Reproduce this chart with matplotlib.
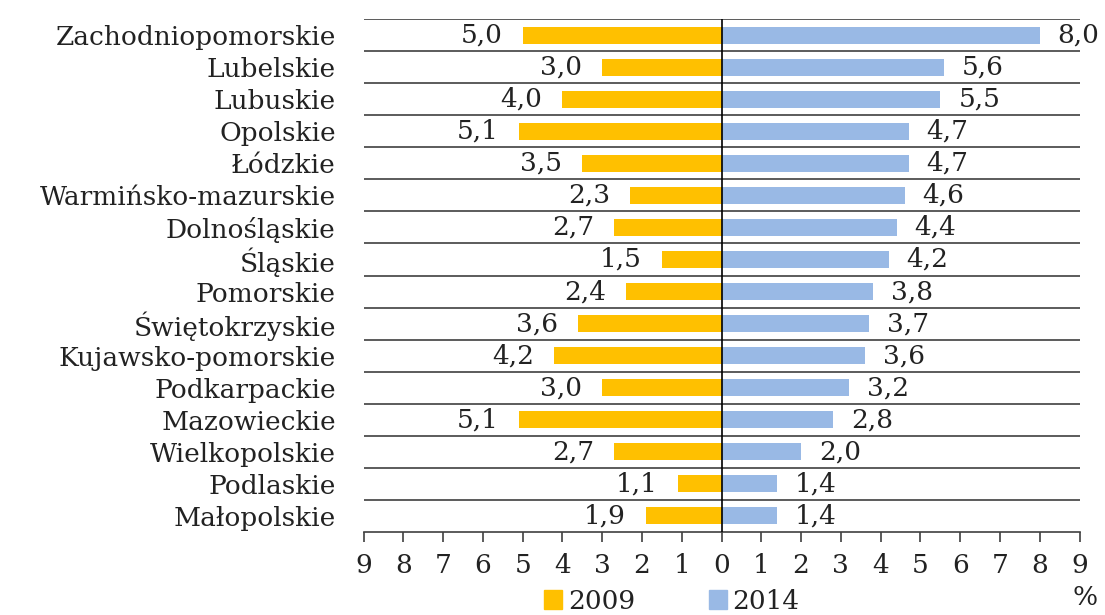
import matplotlib
matplotlib.use("Agg")
import matplotlib.pyplot as plt
from matplotlib.patches import Patch

regions = ["Zachodniopomorskie", "Lubelskie", "Lubuskie", "Opolskie", "Łódzkie",
           "Warmińsko-mazurskie", "Dolnośląskie", "Śląskie", "Pomorskie",
           "Świętokrzyskie", "Kujawsko-pomorskie", "Podkarpackie", "Mazowieckie",
           "Wielkopolskie", "Podlaskie", "Małopolskie"]
v2009 = [5.0, 3.0, 4.0, 5.1, 3.5, 2.3, 2.7, 1.5, 2.4, 3.6, 4.2, 3.0, 5.1, 2.7, 1.1, 1.9]
v2014 = [8.0, 5.6, 5.5, 4.7, 4.7, 4.6, 4.4, 4.2, 3.8, 3.7, 3.6, 3.2, 2.8, 2.0, 1.4, 1.4]
xticks = list(range(-9, 10))
xticklabels = [str(abs(t)) for t in xticks]

plt.rcParams['font.family'] = ['DejaVu Serif']

c09 = '#FFC000'
c14 = '#99B9E5'

fig = plt.figure(figsize=(11.05, 6.15), dpi=100)
ax = fig.add_axes([0.329, 0.135, 0.648, 0.834])

n = len(regions)
ys = list(range(n))[::-1]
ax.barh(ys, [-v for v in v2009], height=0.53, color=c09, zorder=2)
ax.barh(ys, v2014, height=0.53, color=c14, zorder=2)

fs = 19
for y, a, b in zip(ys, v2009, v2014):
    ax.text(-a - 0.5, y, f"{a:.1f}".replace('.', ','), ha='right', va='center', fontsize=fs, color='#222222')
    ax.text(b + 0.45, y, f"{b:.1f}".replace('.', ','), ha='left', va='center', fontsize=fs, color='#222222')

for k in range(n):
    ax.axhline(k + 0.5, color='#404040', lw=1.2, zorder=1)
ax.axvline(0, color='black', lw=1.2, zorder=3)

ax.set_xlim(-9, 9)
ax.set_ylim(-0.5, n - 0.5)
ax.set_xticks(xticks)
ax.set_xticklabels(xticklabels, fontsize=fs, color='#222222')
ax.set_yticks(ys)
ax.set_yticklabels(regions, fontsize=fs, color='#222222')
ax.tick_params(axis='y', length=0, pad=20)
ax.tick_params(axis='x', length=7, width=1.2, color='#404040', pad=8, direction='out')
for s in ['top', 'right', 'left']:
    ax.spines[s].set_visible(False)
ax.spines['bottom'].set_color('#404040')
ax.spines['bottom'].set_linewidth(1.2)

handles = [Patch(color=c09, label='2009'), Patch(color=c14, label='2014')]
fig.legend(handles=handles, loc='center', bbox_to_anchor=(0.608, 0.022), ncol=2,
           frameon=False, fontsize=fs, handlelength=0.7, handleheight=0.7,
           handletextpad=0.2, columnspacing=2.8, labelcolor='#222222')
fig.text(0.982, 0.028, '%', fontsize=fs, ha='center', va='center', color='#222222')

fig.savefig('out.png', dpi=100)
